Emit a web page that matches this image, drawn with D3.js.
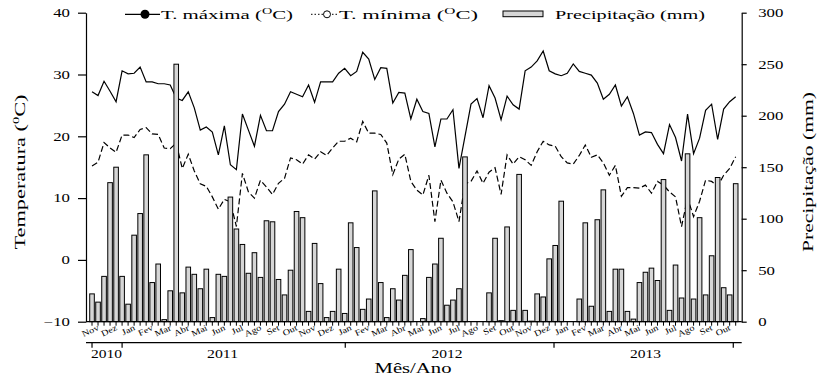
<!DOCTYPE html>
<html>
<head>
<meta charset="utf-8">
<script src="https://cdn.jsdelivr.net/npm/d3@7"></script>
<style>
  body { margin: 0; background: #fff; }
  svg text { font-family: "Liberation Serif", "Times New Roman", serif; fill: #000; }
</style>
</head>
<body>
<svg id="chart" width="823" height="376"></svg>
<script>
// decendial data, Nov 2010 - Out 2013 (3 values per month)
const tMax = [
  27.2, 26.6, 28.9, 27.3, 25.6, 30.6, 30.1, 30.2, 31.2, 28.8, 28.8, 28.5,
  28.5, 28.3, 26.2, 25.8, 27.2, 24.6, 21.0, 21.5, 20.7, 17.0, 21.7, 15.4,
  14.6, 23.6, 21.0, 18.4, 23.4, 20.9, 20.9, 24.0, 25.2, 27.2, 26.8, 26.4,
  28.3, 25.5, 28.8, 28.8, 28.8, 30.2, 31.0, 29.8, 30.5, 33.6, 32.5, 29.2,
  31.1, 31.0, 25.4, 27.1, 27.0, 22.8, 26.0, 24.0, 23.7, 18.3, 22.8, 22.8,
  24.3, 14.8, 20.0, 25.2, 26.1, 23.0, 28.2, 26.2, 22.7, 26.5, 25.1, 24.4,
  30.6, 31.2, 32.2, 33.8, 30.6, 30.1, 29.8, 30.2, 31.7, 30.5, 30.2, 29.9,
  28.6, 26.0, 26.8, 28.3, 24.9, 26.4, 23.7, 20.2, 20.7, 20.6, 18.7, 17.2,
  21.9, 19.8, 16.0, 23.6, 17.2, 19.7, 24.2, 25.2, 19.5, 24.4, 25.6, 26.4
];
const tMin = [
  15.2, 15.8, 19.0, 18.1, 17.4, 20.2, 20.2, 19.8, 21.1, 21.4, 20.4, 20.3,
  18.1, 18.0, 18.9, 14.8, 17.1, 14.4, 12.3, 11.9, 10.2, 8.2, 9.8, 9.4,
  5.4, 14.0, 11.0, 10.0, 12.9, 11.8, 10.6, 12.4, 13.2, 16.5, 16.2, 15.5,
  17.0, 16.3, 17.5, 16.9, 18.1, 19.2, 19.2, 19.7, 19.1, 22.4, 20.5, 20.5,
  20.3, 18.9, 13.8, 16.3, 17.1, 12.7, 11.3, 10.5, 13.7, 6.2, 12.9, 10.8,
  9.4, 6.2, 12.3, 12.7, 14.4, 12.4, 14.2, 14.9, 10.6, 17.0, 15.5, 16.7,
  16.2, 15.3, 17.5, 19.2, 18.6, 18.4, 16.7, 15.7, 15.5, 16.9, 18.6, 16.6,
  17.0, 15.7, 13.7, 15.3, 10.3, 11.7, 11.7, 11.6, 12.1, 10.8, 12.7, 12.1,
  11.0, 10.2, 5.4, 10.0, 7.0, 9.5, 12.9, 12.7, 11.9, 13.7, 14.8, 16.7
];
const precip = [
  27, 19, 44, 135, 150, 44, 17, 84, 105, 162, 38, 56,
  2, 30, 250, 28, 53, 46, 32, 51, 4, 46, 44, 121,
  90, 75, 47, 67, 43, 98, 97, 41, 26, 50, 107, 101,
  10, 76, 37, 4, 10, 51, 8, 96, 72, 12, 22, 127,
  38, 4, 32, 21, 45, 70, 0, 3, 43, 56, 81, 16,
  21, 32, 160, 0, 0, 0, 28, 81, 1, 92, 11, 143,
  11, 0.5, 27, 24, 61, 74, 117, 0, 0, 22, 96, 15,
  99, 128, 10, 51, 51, 10, 2.5, 38, 48, 52, 40, 138,
  11, 55, 23, 163, 22, 101, 26, 64, 140, 33, 26, 134
];
const months = ['Nov', 'Dez', 'Jan', 'Fev', 'Mar', 'Abr', 'Mai', 'Jun', 'Jul', 'Ago', 'Set', 'Out'];
const years = ['2010', '2011', '2012', '2013'];
const yearTicks = [0, 5, 42.1, 76.8, 106.6];
const yearLabelAt = [2.4, 21.7, 59.0, 92.0];
const tempTicks = [-10, 0, 10, 20, 30, 40];
const precipTicks = [0, 50, 100, 150, 200, 250, 300];

const width = 823, height = 376;
const margin = { top: 12.7, right: 81.3, bottom: 54.3, left: 86 };
const sx = 1.4; // the picture's text is stretched sideways

const svg = d3.select('#chart');
const n = precip.length;

const x = d3.scaleLinear().domain([0, n + 1]).range([margin.left, width - margin.right]);
const yT = d3.scaleLinear().domain([-10, 40]).range([height - margin.bottom, margin.top]);
const yP = d3.scaleLinear().domain([0, 300]).range([height - margin.bottom, margin.top]);

// temperature lines
const line = d3.line().x((d, i) => x(i + 1)).y(d => yT(d));

svg.append('path')
  .datum(tMax)
  .attr('fill', 'none')
  .attr('stroke', '#000')
  .attr('stroke-width', 1.2)
  .attr('d', line);

svg.append('path')
  .datum(tMin)
  .attr('fill', 'none')
  .attr('stroke', '#000')
  .attr('stroke-width', 1.2)
  .attr('stroke-dasharray', '6,3')
  .attr('d', line);

// precipitation bars (drawn over the lines, as in the picture)
const bw = 4.6;
svg.append('g')
  .selectAll('rect')
  .data(precip.map((v, i) => ({ v, i })).filter(d => d.v > 0))
  .enter()
  .append('rect')
  .attr('x', d => x(d.i + 1) - bw / 2)
  .attr('y', d => yP(d.v))
  .attr('width', bw)
  .attr('height', d => yP(0) - yP(d.v))
  .attr('fill', '#d6d6d6')
  .attr('stroke', '#000')
  .attr('stroke-width', 1);

// left axis
const gL = svg.append('g')
  .attr('transform', `translate(${margin.left},0)`)
  .call(d3.axisLeft(yT).tickValues(tempTicks).tickSize(8).tickSizeOuter(0).tickPadding(0));
gL.selectAll('text')
  .attr('x', 0)
  .attr('transform', `translate(-16,0) scale(${sx},1)`)
  .style('font-size', '12px');

// right axis
const gR = svg.append('g')
  .attr('transform', `translate(${width - margin.right},0)`)
  .call(d3.axisRight(yP).tickValues(precipTicks).tickSize(5).tickSizeOuter(0).tickPadding(0));
gR.selectAll('text')
  .attr('x', 0)
  .attr('transform', `translate(16.5,0) scale(${sx},1)`)
  .style('font-size', '12px');

svg.selectAll('.domain').attr('stroke-width', 1.2);
svg.selectAll('.tick line').attr('stroke-width', 1.2);

// bottom axis: one tick per decade, month names under the middle one
const gB = svg.append('g')
  .attr('transform', `translate(0,${height - margin.bottom})`);
gB.append('line')
  .attr('x1', margin.left).attr('x2', width - margin.right)
  .attr('stroke', '#000').attr('stroke-width', 1.2);
gB.selectAll('line.tk')
  .data(d3.range(1, n + 1))
  .enter().append('line')
  .attr('class', 'tk')
  .attr('x1', d => x(d)).attr('x2', d => x(d))
  .attr('y1', 0).attr('y2', 4)
  .attr('stroke', '#000').attr('stroke-width', 1);
gB.selectAll('text.mo')
  .data(d3.range(n / 3))
  .enter().append('text')
  .attr('class', 'mo')
  .attr('text-anchor', 'end')
  .attr('transform', d => `translate(${x(d * 3 + 2) + 1.5},${8}) rotate(-25) scale(1.2,1)`)
  .style('font-size', '8.5px')
  .text(d => months[d % 12]);

// year axis
const yearY = 342.7;
const gY = svg.append('g').attr('transform', `translate(0,${yearY})`);
gY.append('line')
  .attr('x1', margin.left).attr('x2', width - margin.right)
  .attr('stroke', '#000').attr('stroke-width', 1.2);
gY.selectAll('line.yt')
  .data(yearTicks)
  .enter().append('line')
  .attr('class', 'yt')
  .attr('x1', d => x(d + 1)).attr('x2', d => x(d + 1))
  .attr('y1', 0).attr('y2', 5)
  .attr('stroke', '#000').attr('stroke-width', 1.2);
gY.selectAll('text')
  .data(years)
  .enter().append('text')
  .attr('x', (d, i) => x(yearLabelAt[i] + 1))
  .attr('y', 15)
  .attr('text-anchor', 'middle')
  .attr('textLength', 31)
  .attr('lengthAdjust', 'spacingAndGlyphs')
  .style('font-size', '12px')
  .text(d => d);

// axis titles
svg.append('text')
  .attr('x', 413).attr('y', 373)
  .attr('text-anchor', 'middle')
  .attr('textLength', 77)
  .attr('lengthAdjust', 'spacingAndGlyphs')
  .style('font-size', '15px')
  .text('Mês/Ano');

const tl = svg.append('text')
  .attr('transform', 'translate(25,172) rotate(-90)')
  .attr('text-anchor', 'middle')
  .attr('textLength', 155)
  .attr('lengthAdjust', 'spacingAndGlyphs')
  .style('font-size', '14px');
tl.append('tspan').text('Temperatura (');
tl.append('tspan').attr('dy', -6).style('font-size', '9px').text('0');
tl.append('tspan').attr('dy', 6).text('C)');

svg.append('text')
  .attr('transform', 'translate(813,172) rotate(-90)')
  .attr('text-anchor', 'middle')
  .attr('textLength', 160)
  .attr('lengthAdjust', 'spacingAndGlyphs')
  .style('font-size', '14px')
  .text('Precipitação (mm)');

// legend
const lg = svg.append('g');
lg.append('line').attr('x1', 125).attr('x2', 160).attr('y1', 14.3).attr('y2', 14.3)
  .attr('stroke', '#000').attr('stroke-width', 1.2);
lg.append('circle').attr('cx', 145).attr('cy', 14.3).attr('r', 4.5).attr('fill', '#000');
const t1 = lg.append('text').attr('x', 161).attr('y', 19)
  .attr('textLength', 132).attr('lengthAdjust', 'spacingAndGlyphs')
  .style('font-size', '12.5px');
t1.append('tspan').text('T. máxima (');
t1.append('tspan').attr('dy', -5).style('font-size', '8.5px').text('O');
t1.append('tspan').attr('dy', 5).text('C)');

lg.append('line').attr('x1', 311).attr('x2', 338).attr('y1', 14.3).attr('y2', 14.3)
  .attr('stroke', '#000').attr('stroke-width', 1).attr('stroke-dasharray', '1.5,2');
lg.append('circle').attr('cx', 327).attr('cy', 14.3).attr('r', 3.5)
  .attr('fill', '#fff').attr('stroke', '#000').attr('stroke-width', 1);
const t2 = lg.append('text').attr('x', 339).attr('y', 19)
  .attr('textLength', 139).attr('lengthAdjust', 'spacingAndGlyphs')
  .style('font-size', '12.5px');
t2.append('tspan').text('T. mínima (');
t2.append('tspan').attr('dy', -5).style('font-size', '8.5px').text('O');
t2.append('tspan').attr('dy', 5).text('C)');

lg.append('rect').attr('x', 503).attr('y', 11).attr('width', 40).attr('height', 5.7)
  .attr('fill', '#d6d6d6').attr('stroke', '#000').attr('stroke-width', 1);
lg.append('text').attr('x', 555).attr('y', 19)
  .attr('textLength', 150).attr('lengthAdjust', 'spacingAndGlyphs')
  .style('font-size', '12.5px')
  .text('Precipitação (mm)');
</script>
</body>
</html>
